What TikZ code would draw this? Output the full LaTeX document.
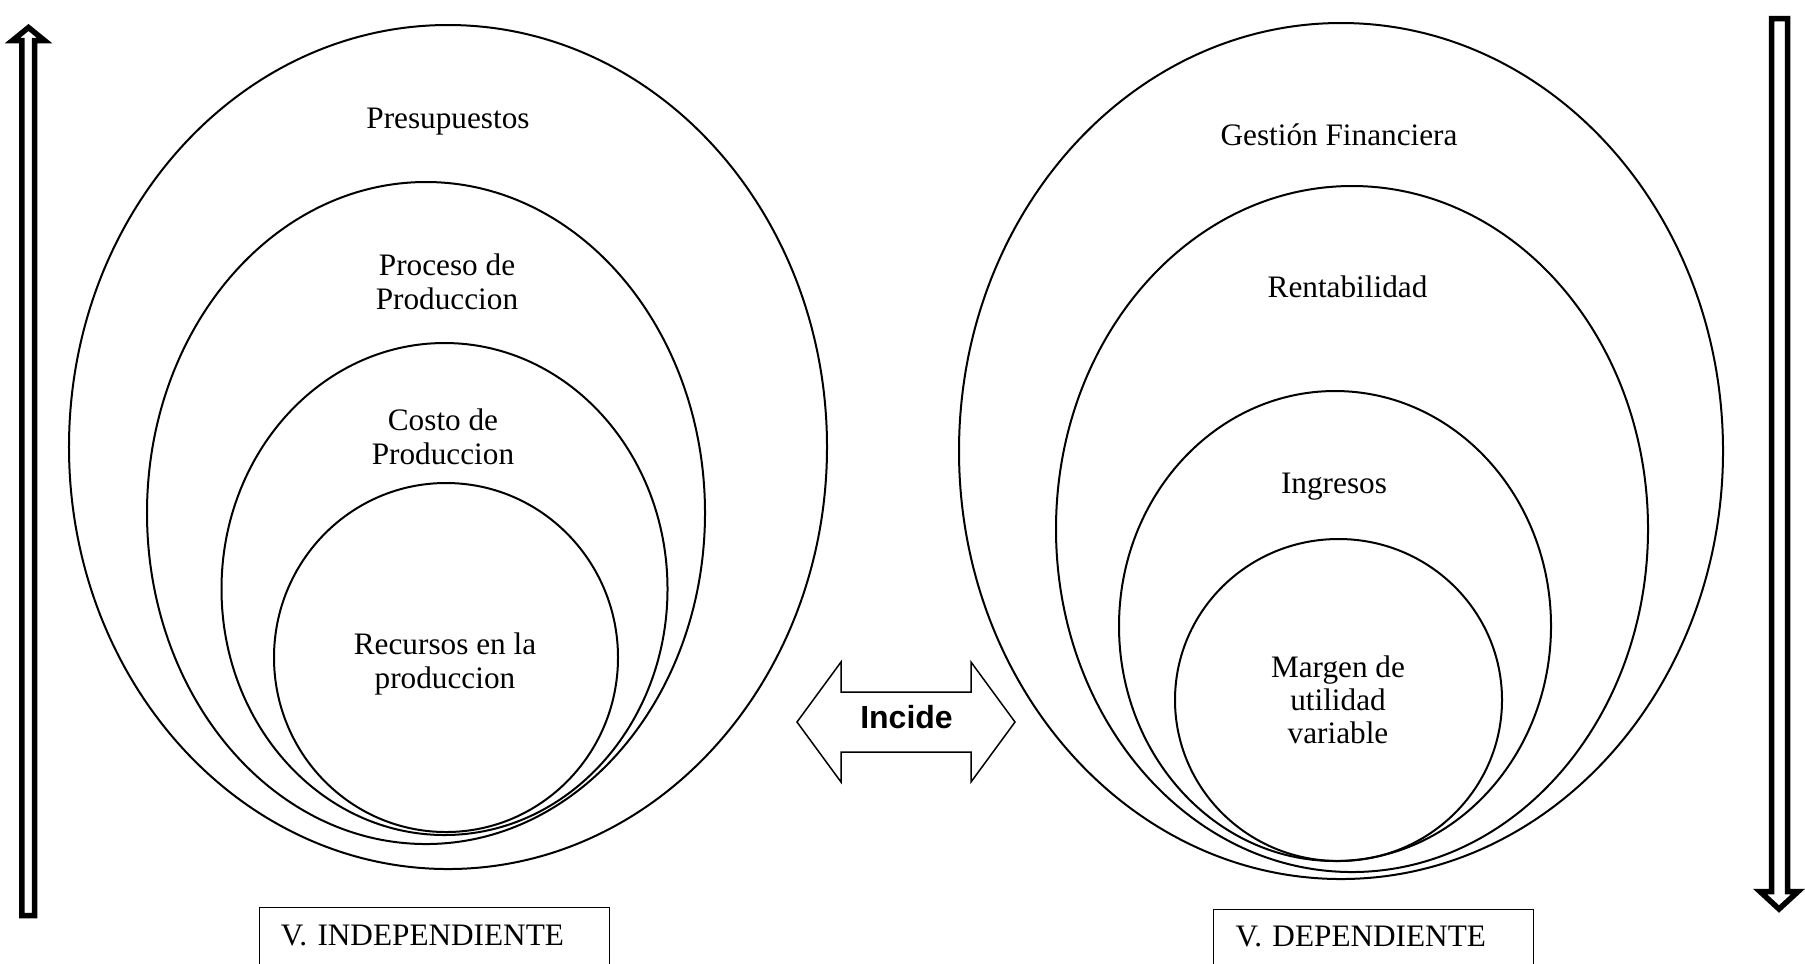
\documentclass[tikz,border=0pt]{standalone}
\usepackage{fontspec}
\setmainfont{Liberation Serif}
\newfontfamily\arialfont{Liberation Sans}
\usetikzlibrary{shapes.geometric}
\begin{document}
\begin{tikzpicture}[x=0.4pt,y=-0.4pt,
  ring/.style={draw, ellipse, line width=0.8pt, inner sep=0pt},
  txt/.style={font=\fontsize{12.5pt}{13.6pt}\selectfont, align=center, inner sep=0pt},
  bigarrow/.style={draw, line width=2.2pt, miter limit=10},
  twoway/.style={draw, line width=0.6pt},
  varbox/.style={draw, rectangle, line width=0.6pt, anchor=north west, align=left,
    inner ysep=0pt, text height=8pt, text depth=0pt,
    font=\fontsize{12.5pt}{13.6pt}\selectfont}
]
\useasboundingbox (0,0) rectangle (1805,963);

% independent variable: nested ellipses
\node[ring, minimum width=303.2pt, minimum height=337.6pt] (L1) at (448,447) {};
\node[ring, minimum width=223.2pt, minimum height=264.8pt] (L2) at (426,513) {};
\node[ring, minimum width=178.4pt, minimum height=196.8pt] (L3) at (444.5,589) {};
\node[ring, minimum width=137.6pt, minimum height=139.6pt] (L4) at (446,657.5) {};

\node[txt, anchor=base] (presupuestos) at (448,128) {Presupuestos};
\node[txt] (proceso) at (447,281.5) {Proceso de\\Produccion};
\node[txt] (costo) at (443,437) {Costo de\\Produccion};
\node[txt] (recursos) at (445,663.5) {Recursos en la\\produccion};

% dependent variable: nested ellipses
\node[ring, minimum width=305.6pt, minimum height=342.4pt] (R1) at (1341,451) {};
\node[ring, minimum width=236.8pt, minimum height=274.4pt] (R2) at (1352,529) {};
\node[ring, minimum width=172.8pt, minimum height=188pt] (R3) at (1335,626) {};
\node[ring, minimum width=130.8pt, minimum height=128.8pt] (R4) at (1338.5,700) {};

\node[txt, anchor=base] (gestion) at (1339,145) {Gestión Financiera};
\node[txt, anchor=base] (rentabilidad) at (1347.5,297) {Rentabilidad};
\node[txt, anchor=base] (ingresos) at (1334,493) {Ingresos};
\node[txt, font=\fontsize{12.5pt}{13.2pt}\selectfont] (margen) at (1338,700) {Margen de\\utilidad\\variable};

% double-headed block arrow between the two groups
\draw[twoway] (797,722) -- (841,662) -- (841,692) -- (971,692) -- (971,662)
  -- (1015,722) -- (971,782) -- (971,752) -- (841,752) -- (841,782) -- cycle;
\node[font=\arialfont\bfseries\fontsize{12.8pt}{14pt}\selectfont, anchor=base, inner sep=0pt]
  (incide) at (906.5,728) {Incide};

% hollow vertical arrows at the sides
\draw[bigarrow] (28.5,27.5) -- (44.5,40.5) -- (34.5,40.5) -- (34.5,915.5)
  -- (21.75,915.5) -- (21.75,40.5) -- (12.5,40.5) -- cycle;
\draw[bigarrow] (1771.5,18.5) -- (1787.5,18.5) -- (1787.5,891.5) -- (1798,891.5)
  -- (1779,909) -- (1760,891.5) -- (1771.5,891.5) -- cycle;

% variable labels
\node[varbox, inner xsep=8.6pt, text width=122.8pt, minimum height=22.8pt]
  (indep) at (258.5,906.5) {V. INDEPENDIENTE};
\node[varbox, inner xsep=8.9pt, text width=110.2pt, minimum height=22pt]
  (dep) at (1212.7,908.5) {V. DEPENDIENTE};
\end{tikzpicture}
\end{document}
